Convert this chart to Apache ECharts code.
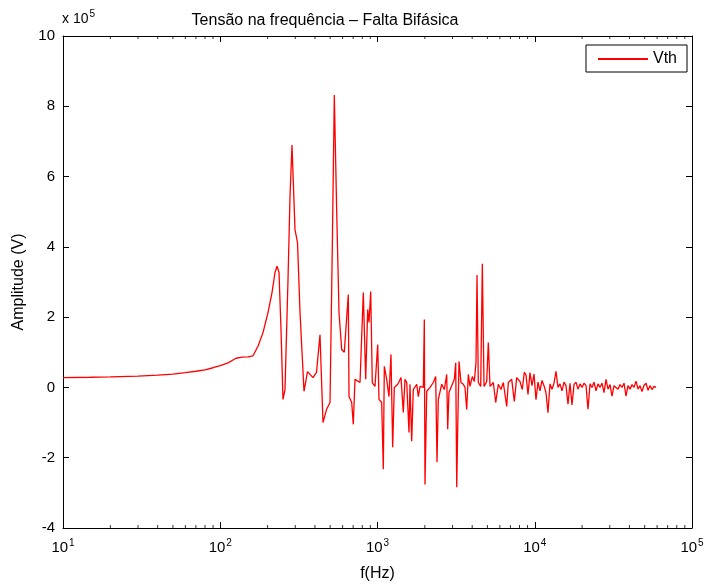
<!DOCTYPE html>
<html>
<head>
<meta charset="utf-8">
<script src="https://cdn.jsdelivr.net/npm/echarts@6/dist/echarts.min.js"></script>
<style>
  html, body { margin: 0; padding: 0; background: #fff; }
  #chart { width: 707px; height: 587px; }
</style>
</head>
<body>
<div id="chart"></div>
<script>
// Frequency (Hz) of each sample of the Thevenin voltage spectrum
const freqHz = [
  10, 15, 20, 30, 40, 50, 60, 70, 80, 90, 100, 112, 126, 137.5, 150.2, 161.6, 173.8, 187, 201.2, 213.4,
  222.9, 229.6, 236.4, 243.4, 250.6, 258.1, 269.7, 277.7, 285.9, 298.8, 310, 321.6, 340.9, 358.8, 388.9,
  409.3, 430.8, 450.2, 474, 498.9, 516, 531.3, 550.3, 569.2, 592, 615, 630.5, 652.1, 658.9, 685.4,
  701.7, 719.4, 774.1, 812.5, 841.4, 866.4, 883, 905.4, 926.7, 964, 1003, 1022, 1063, 1089, 1105,
  1144, 1183, 1218, 1249, 1279, 1345, 1411, 1459, 1496, 1534, 1586, 1609, 1650, 1689, 1776, 1818,
  1864, 1956, 1985, 2005, 2056, 2158, 2264, 2345, 2390, 2436, 2561, 2660, 2755, 2795, 2849, 2991,
  3080, 3144, 3190, 3236, 3299, 3396, 3513, 3601, 3692, 3780, 3875, 4008, 4127, 4231, 4294, 4376,
  4533, 4641, 4758, 4949, 5066, 5194, 5451, 5646, 5865, 6102, 6310, 6632, 6790, 7136, 7413, 7677,
  8059, 8335, 8582, 8800, 9060, 9328, 9606, 9890, 10185, 10488, 10799, 11120, 11449, 11790, 12140,
  12502, 12873, 13255, 13649, 14056, 14473, 14903, 15346, 15801, 16270, 16756, 17254, 17766, 18294,
  18836, 19402, 19978, 20572, 21183, 21811, 22463, 23130, 23817, 24524, 25252, 26002, 26779, 27573,
  28391, 29234, 30102, 31002, 31920, 32868, 33844, 34848, 35883, 36958, 38055, 39184, 40347, 41545,
  42788, 44058, 45366, 46713, 48099, 49526, 51009, 52523, 54082, 55687, 57339, 59034
];

// Amplitude of Vth at each frequency, in units of 10^5 V
const vthE5 = [
  0.28, 0.29, 0.30, 0.32, 0.35, 0.38, 0.42, 0.46, 0.50, 0.56, 0.62, 0.70, 0.83, 0.86, 0.87, 0.90, 1.17, 1.56, 2.13, 2.70,
  3.27, 3.45, 3.27, 1.65, -0.34, -0.06, 3.07, 5.43, 6.90, 4.49, 4.12, 2.13, -0.11, 0.45, 0.28,
  0.43, 1.50, -1.00, -0.63, -0.43, 4.00, 8.32, 5.00, 2.13, 1.08, 1.00, 1.00, 2.64, -0.26, -0.43,
  -1.05, 0.23, 0.14, 2.70, 0.23, 2.22, 1.85, 2.73, 0.14, 0.03, 1.22, -0.34, -0.43, -2.33, 0.60,
  0.23, -0.26, 0.94, -1.70, 0.00, 0.09, 0.28, -0.71, 0.23, 0.14, -1.28, 0.09, -1.53, -0.06, 0.09, -0.26,
  0.03, 0.00, 1.93, -2.76, -0.11, 0.00, 0.14, 0.31, -2.13, -0.34, 0.09, -0.06, 0.37, -1.19, -0.14, 0.09,
  0.23, 0.70, -2.84, -1.19, 0.74, 0.14, 0.09, 0.00, -0.63, 0.37, 0.03, 0.31, 0.17, 0.71, 3.20, 0.14,
  0.03, 3.52, 0.03, 0.17, 1.28, 0.03, 0.14, -0.43, 0.09, -0.06, 0.14, -0.54, 0.14, 0.23, -0.40, 0.28,
  0.17, -0.06, 0.43, 0.35, -0.20, 0.42, 0.05, 0.38, -0.35, 0.15, -0.10, 0.20, 0.05, -0.15, -0.72,
  0.10, -0.05, 0.12, 0.46, 0.00, 0.10, -0.10, 0.15, 0.05, -0.48, 0.12, -0.50, 0.08, 0.15,
  -0.05, 0.10, 0.00, 0.12, 0.05, -0.62, 0.10, 0.00, 0.15, -0.10, 0.10, 0.00, 0.12, -0.15,
  0.23, -0.05, 0.08, -0.25, 0.05, 0.10, -0.05, 0.08, 0.00, 0.12, -0.25, 0.05, -0.05, 0.08,
  0.00, 0.18, -0.05, 0.05, -0.12, 0.06, 0.12, -0.08, 0.05, -0.06, 0.03, 0.00
];

// Decade ticks of the frequency axis and amplitude range (x 10^5 V)
const decadeExponents = [1, 2, 3, 4, 5];
const minorMultipliers = [2, 3, 4, 5, 6, 7, 8, 9];
const yMin = -4, yMax = 10, yStep = 2;

const FONT = '"Liberation Sans", Arial, sans-serif';

const lineData = freqHz.map((f, i) => [f, vthE5[i]]);

// minor log ticks (2..9 per decade), drawn on the bottom and top edges
const minorBottom = [], minorTop = [];
decadeExponents.slice(0, -1).forEach(e => {
  minorMultipliers.forEach(m => {
    const f = m * Math.pow(10, e);
    minorBottom.push([f, yMin]);
    minorTop.push([f, yMax]);
  });
});

const chart = echarts.init(document.getElementById('chart'), null, { renderer: 'canvas' });

const tickStyle = { show: true, inside: true, length: 6, lineStyle: { color: '#000', width: 1 } };

chart.setOption({
  animation: false,
  backgroundColor: '#fff',
  title: {
    text: 'Tensão na frequência – Falta Bifásica',
    left: 320, top: 8, textAlign: 'center',
    textStyle: { fontFamily: FONT, fontSize: 16, fontWeight: 'normal', color: '#000' }
  },
  graphic: [{
    type: 'text', left: 62, top: 9,
    style: {
      text: '{b|x 10}{e|5}',
      rich: {
        b: { fontFamily: FONT, fontSize: 14, fill: '#000' },
        e: { fontFamily: FONT, fontSize: 10, fill: '#000', padding: [0, 0, 10, 1] }
      }
    }
  }],
  legend: {
    data: ['Vth'],
    right: 20, top: 45,
    backgroundColor: '#fff',
    borderColor: '#000', borderWidth: 1, borderRadius: 0,
    padding: [6, 10, 5, 12],
    itemWidth: 50, itemHeight: 2, itemGap: 8,
    icon: 'rect',
    textStyle: { fontFamily: FONT, fontSize: 16, color: '#000' }
  },
  grid: { left: 63, right: 15, top: 36, bottom: 58 },
  xAxis: [{
    type: 'log', logBase: 10, min: 10, max: 100000,
    name: 'f(Hz)', nameLocation: 'middle', nameGap: 38,
    nameTextStyle: { fontFamily: FONT, fontSize: 16, color: '#000' },
    axisLine: { show: true, onZero: false, lineStyle: { color: '#000', width: 1 } },
    axisTick: tickStyle,
    splitLine: { show: false },
    minorTick: { show: false },
    axisLabel: {
      margin: 10,
      formatter: v => '{b|10}{e|' + Math.round(Math.log10(v)) + '}',
      rich: {
        b: { fontFamily: FONT, fontSize: 15, color: '#000' },
        e: { fontFamily: FONT, fontSize: 10, color: '#000', padding: [0, 0, 10, 1] }
      }
    }
  }, {
    type: 'log', logBase: 10, min: 10, max: 100000, position: 'top',
    axisLine: { show: true, onZero: false, lineStyle: { color: '#000', width: 1 } },
    axisTick: tickStyle, axisLabel: { show: false }, splitLine: { show: false }
  }],
  yAxis: [{
    type: 'value', min: yMin, max: yMax, interval: yStep,
    name: 'Amplitude (V)', nameLocation: 'middle', nameGap: 36, nameRotate: 90,
    nameTextStyle: { fontFamily: FONT, fontSize: 16, color: '#000' },
    axisLine: { show: true, onZero: false, lineStyle: { color: '#000', width: 1 } },
    axisTick: tickStyle,
    splitLine: { show: false },
    axisLabel: { fontFamily: FONT, fontSize: 15, color: '#000', margin: 8 }
  }, {
    type: 'value', min: yMin, max: yMax, interval: yStep, position: 'right',
    axisLine: { show: true, onZero: false, lineStyle: { color: '#000', width: 1 } },
    axisTick: tickStyle, axisLabel: { show: false }, splitLine: { show: false }
  }],
  series: [{
    name: 'Vth', type: 'line', data: lineData,
    showSymbol: false, symbol: 'none',
    lineStyle: { color: '#ff0000', width: 1.3 },
    itemStyle: { color: '#ff0000' }
  }, {
    name: 'minorBottom', type: 'scatter', data: minorBottom, silent: true,
    symbol: 'rect', symbolSize: [1, 3], symbolOffset: [0, -1.5],
    itemStyle: { color: '#000' }, z: 5
  }, {
    name: 'minorTop', type: 'scatter', data: minorTop, silent: true,
    symbol: 'rect', symbolSize: [1, 3], symbolOffset: [0, 1.5],
    itemStyle: { color: '#000' }, z: 5
  }]
});
</script>
</body>
</html>
